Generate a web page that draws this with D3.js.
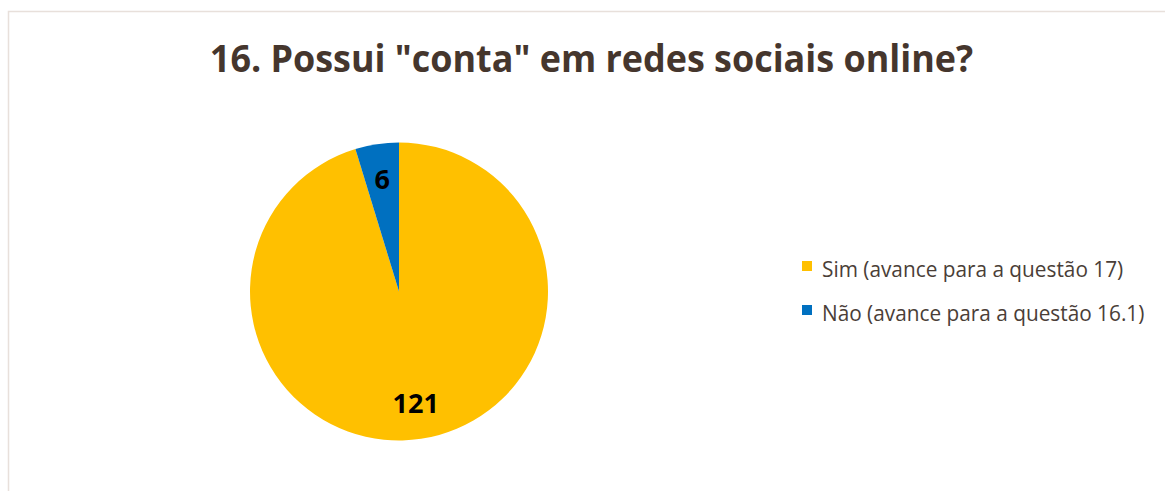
<!DOCTYPE html>
<html>
<head>
<meta charset="utf-8">
<script src="https://cdn.jsdelivr.net/npm/d3@7"></script>
<style>
  body { margin: 0; background: #fff; }
</style>
</head>
<body>
<div id="chart"></div>
<script>
var w = 1165;
var h = 491;

// data
var titleText = '16. Possui "conta" em redes sociais online?';
var categories = ["Sim (avance para a questão 17)", "Não (avance para a questão 16.1)"];
var values = [121, 6];
var colors = ["#FFC000", "#0070C0"];

var svg = d3.select("#chart").append("svg")
        .attr("width", w)
        .attr("height", h)
        .style("font-family", "'Open Sans', 'Noto Sans', sans-serif");

// chart frame
svg.append("rect")
    .attr("x", 8.5)
    .attr("y", 11.5)
    .attr("width", 1180)
    .attr("height", 500)
    .attr("fill", "#fff")
    .attr("stroke", "#e8e0db")
    .attr("stroke-width", 1.5);

// Calibri is a bit narrower than what we have, squeeze the text a little
function squeeze(k){
    return function(sel){
        sel.each(function(){
            var len = this.getComputedTextLength();
            d3.select(this).attr("textLength", len * k).attr("lengthAdjust", "spacingAndGlyphs");
        });
    };
}

// title
svg.append("text")
    .attr("x", 591.5)
    .attr("y", 72)
    .attr("text-anchor", "middle")
    .attr("font-size", 38)
    .attr("font-weight", "bold")
    .attr("fill", "#45362d")
    .text(titleText)
    .call(squeeze(0.945));

// pie
var cx = 399, cy = 291.5, r = 149;
var pie = d3.pie().sort(null).value(function(d){ return d; });
var arcs = pie(values);
var arc = d3.arc().innerRadius(0).outerRadius(r);
var labelArc = d3.arc().innerRadius(r * 0.76).outerRadius(r * 0.76);

var g = svg.append("g").attr("transform", "translate(" + cx + "," + cy + ")");

g.selectAll("path")
    .data(arcs)
    .join("path")
    .attr("d", arc)
    .attr("fill", function(d, i){ return colors[i]; });

g.selectAll("text")
    .data(arcs)
    .join("text")
    .attr("transform", function(d){
        var c = labelArc.centroid(d);
        return "translate(" + c[0] + "," + c[1] + ")";
    })
    .attr("text-anchor", "middle")
    .attr("dy", "0.36em")
    .attr("font-size", 27)
    .attr("font-weight", "bold")
    .attr("fill", "#000")
    .text(function(d){ return d.value; });

// legend
var legendY = d3.scalePoint().domain(categories).range([266, 310]);

var leg = svg.selectAll(".leg")
    .data(categories)
    .join("g")
    .attr("class", "leg")
    .attr("transform", function(d){ return "translate(802," + legendY(d) + ")"; });

leg.append("rect")
    .attr("x", 0)
    .attr("y", -5)
    .attr("width", 10)
    .attr("height", 10)
    .attr("fill", function(d, i){ return colors[i]; });

leg.append("text")
    .attr("x", 20)
    .attr("y", 11)
    .attr("font-size", 21)
    .attr("fill", "#4a3e37")
    .text(function(d){ return d; })
    .call(squeeze(0.99));
</script>
</body>
</html>
